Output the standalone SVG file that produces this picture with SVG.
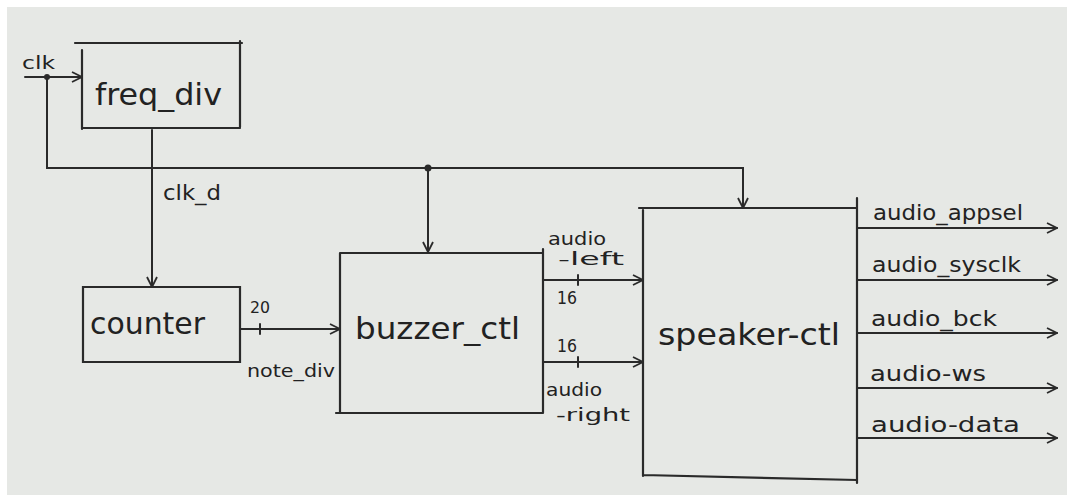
<svg xmlns="http://www.w3.org/2000/svg" width="1067" height="495" viewBox="0 0 1067 495">
<defs>
<style>
.ln{fill:none;stroke:#2a2a2a;stroke-width:2;stroke-linecap:round}
.bx{fill:none;stroke:#2a2a2a;stroke-width:2.2;stroke-linecap:round}
.t{font-family:"DejaVu Sans","Liberation Sans",sans-serif;fill:#222}
.big{font-size:30px}
.mid{font-size:22px}
.sm{font-size:17px}
</style>
<marker id="ah" viewBox="0 0 12 12" refX="11" refY="6" markerWidth="12" markerHeight="12" markerUnits="userSpaceOnUse" orient="auto">
<polyline points="1,1 11,6 1,11" fill="none" stroke="#2a2a2a" stroke-width="1.8"/>
</marker>
</defs>
<rect x="0" y="0" width="1067" height="495" fill="#ffffff"/>
<rect x="7" y="7" width="1060" height="488" fill="#e6e8e5"/>

<g id="freq_div">
<path class="bx" d="M75 43 H242 M240 41 V127 M82 128 H240 M82 50 V129"/>
<text class="t big" x="95" y="105" textLength="127" lengthAdjust="spacingAndGlyphs">freq_div</text>
</g>
<g id="counter">
<path class="bx" d="M83 287 H240 V362 H83 Z"/>
<text class="t big" x="90" y="334" textLength="115" lengthAdjust="spacingAndGlyphs">counter</text>
</g>
<g id="buzzer_ctl">
<path class="bx" d="M340 253 H543 M543 249 V413 M336 413 H543 M340 253 V413"/>
<text class="t big" x="355" y="339" textLength="165" lengthAdjust="spacingAndGlyphs">buzzer_ctl</text>
</g>
<g id="speaker_ctl">
<path class="bx" d="M639 208 H857 M857 198 V483 M643 475 L857 480 M643 210 V476"/>
<text class="t big" x="658" y="345" textLength="182" lengthAdjust="spacingAndGlyphs">speaker-ctl</text>
</g>

<g id="connectors">
<path class="ln" d="M25 77 H82" marker-end="url(#ah)"/>
<path class="ln" d="M47 77 V168 H743 V208" marker-end="url(#ah)"/>
<path class="ln" d="M428 168 V252" marker-end="url(#ah)"/>
<circle cx="47" cy="77" r="3" fill="#2a2a2a"/>
<circle cx="428" cy="168" r="3.5" fill="#2a2a2a"/>
<path class="ln" d="M152 130 V287" marker-end="url(#ah)"/>
<path class="ln" d="M240 329 H340" marker-end="url(#ah)"/>
<path class="ln" d="M260 324 V334"/>
<path class="ln" d="M543 280 H643" marker-end="url(#ah)"/>
<path class="ln" d="M578 275 V285"/>
<path class="ln" d="M543 362 H643" marker-end="url(#ah)"/>
<path class="ln" d="M578 357 V367"/>
<path class="ln" d="M857 228 H1057" marker-end="url(#ah)"/>
<path class="ln" d="M857 280 H1057" marker-end="url(#ah)"/>
<path class="ln" d="M857 333 H1057" marker-end="url(#ah)"/>
<path class="ln" d="M857 388 H1057" marker-end="url(#ah)"/>
<path class="ln" d="M857 438 H1057" marker-end="url(#ah)"/>
</g>

<g id="labels">
<text class="t sm" x="22" y="69" textLength="33" lengthAdjust="spacingAndGlyphs">clk</text>
<text class="t mid" x="163" y="200" textLength="58" lengthAdjust="spacingAndGlyphs">clk_d</text>
<text class="t" style="font-size:15px" x="250" y="313" textLength="20" lengthAdjust="spacingAndGlyphs">20</text>
<text class="t sm" x="247" y="377" textLength="88" lengthAdjust="spacingAndGlyphs">note_div</text>
<text class="t sm" x="548" y="245" textLength="58" lengthAdjust="spacingAndGlyphs">audio</text>
<text class="t sm" x="558" y="265" textLength="66" lengthAdjust="spacingAndGlyphs">-left</text>
<text class="t sm" x="557" y="304" textLength="20" lengthAdjust="spacingAndGlyphs">16</text>
<text class="t sm" x="557" y="352" textLength="20" lengthAdjust="spacingAndGlyphs">16</text>
<text class="t sm" x="546" y="396" textLength="56" lengthAdjust="spacingAndGlyphs">audio</text>
<text class="t sm" x="556" y="421" textLength="74" lengthAdjust="spacingAndGlyphs">-right</text>
<text class="t mid" x="873" y="220" textLength="150" lengthAdjust="spacingAndGlyphs">audio_appsel</text>
<text class="t mid" x="872" y="272" textLength="149" lengthAdjust="spacingAndGlyphs">audio_sysclk</text>
<text class="t mid" x="871" y="326" textLength="126" lengthAdjust="spacingAndGlyphs">audio_bck</text>
<text class="t mid" x="870" y="381" textLength="116" lengthAdjust="spacingAndGlyphs">audio-ws</text>
<text class="t mid" x="871" y="432" textLength="149" lengthAdjust="spacingAndGlyphs">audio-data</text>
</g>
</svg>
